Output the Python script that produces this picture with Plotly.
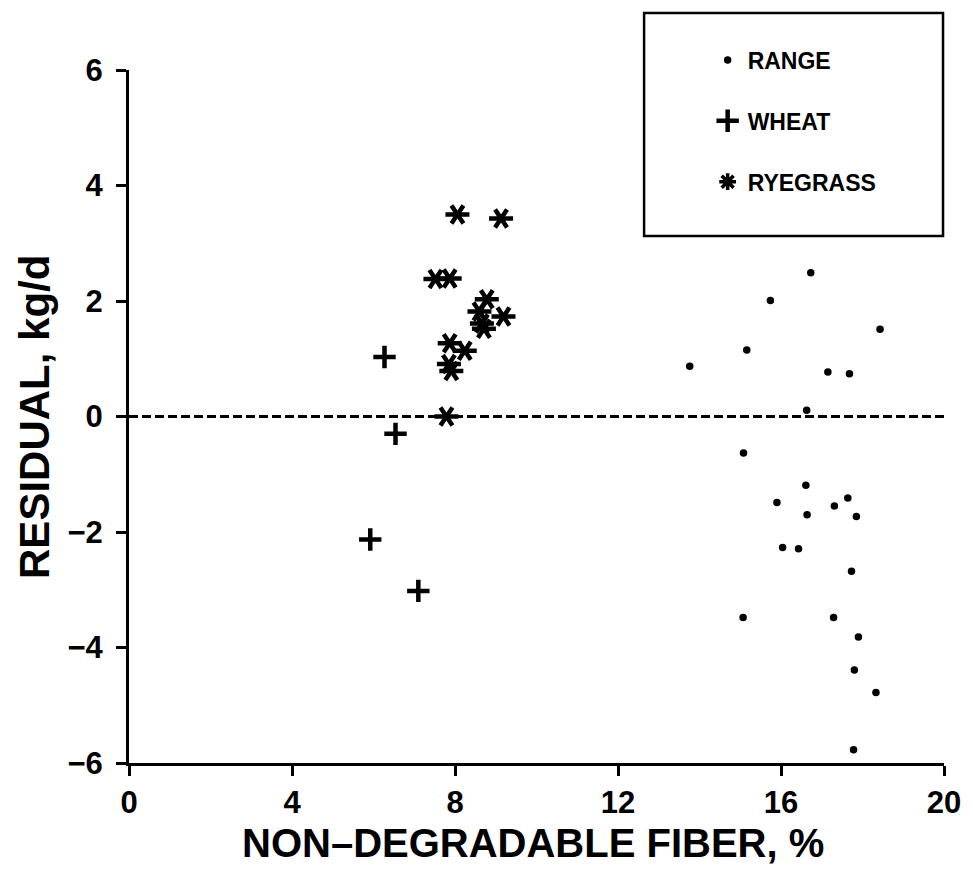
import plotly.graph_objects as go

# ---- data ----
range_x = [13.76, 15.16, 15.74, 16.73, 17.15, 17.68, 18.43, 16.63, 15.08, 16.61, 15.90, 17.64,
           17.31, 16.64, 17.85, 16.04, 16.43, 17.73, 15.07, 17.29, 17.90, 17.80, 18.33, 17.78]
range_y = [0.87, 1.15, 2.01, 2.49, 0.77, 0.74, 1.51, 0.11, -0.63, -1.19, -1.49, -1.41,
           -1.55, -1.70, -1.73, -2.27, -2.29, -2.68, -3.48, -3.48, -3.82, -4.39, -4.78, -5.77]

wheat_x = [6.27, 6.54, 5.92, 7.10]
wheat_y = [1.03, -0.30, -2.13, -3.02]

rye_x = [8.06, 9.13, 7.52, 7.87, 8.78, 8.60, 8.66, 8.71, 9.19, 7.87, 8.24, 7.85, 7.91, 7.79]
rye_y = [3.50, 3.43, 2.38, 2.39, 2.03, 1.82, 1.61, 1.52, 1.73, 1.27, 1.14, 0.91, 0.79, 0.00]

x_ticks = [0, 4, 8, 12, 16, 20]
y_ticks = [-6, -4, -2, 0, 2, 4, 6]
x_range = [0, 20]
y_range = [-6, 6]

FONT = "Liberation Sans, Arial, sans-serif"

fig = go.Figure()

fig.add_trace(go.Scatter(x=range_x, y=range_y, mode="markers", name="<b>RANGE</b>",
                         legendgroup="a",
                         marker=dict(symbol="circle", size=7.5, color="black")))
fig.add_trace(go.Scatter(x=wheat_x, y=wheat_y, mode="markers", name="<b>WHEAT</b>",
                         legendgroup="b",
                         marker=dict(symbol="cross-thin-open", size=16, color="black",
                                     line=dict(width=4.5, color="black"))))
# ryegrass: six-armed asterisk = y-left + y-right
for sym in ["y-left-open", "y-right-open"]:
    fig.add_trace(go.Scatter(x=rye_x, y=rye_y, mode="markers", showlegend=False,
                             legendgroup="c",
                             marker=dict(symbol=sym, size=15, color="black",
                                         line=dict(width=4.5, color="black"))))
# legend entry for ryegrass
fig.add_trace(go.Scatter(x=[None], y=[None], mode="markers", name="<b>RYEGRASS</b>",
                         legendgroup="c",
                         marker=dict(symbol="asterisk-open", size=14, color="black",
                                     line=dict(width=3.5, color="black"))))

# dashed zero line
fig.add_shape(type="line", xref="x", yref="y", x0=x_range[0], x1=x_range[1], y0=0, y1=0,
              line=dict(color="black", width=3, dash="9px,4px"))

# legend box
fig.add_shape(type="rect", xref="paper", yref="paper",
              x0=0.632, x1=0.9988, y0=0.7605, y1=1.0823,
              line=dict(color="black", width=2.5), fillcolor="rgba(0,0,0,0)")

axis_common = dict(showgrid=False, zeroline=False, linecolor="black", linewidth=3,
                   tickcolor="black", tickwidth=2.5, ticklen=10)

fig.update_layout(
    width=973, height=869,
    margin=dict(l=129, r=26, t=70, b=106),
    paper_bgcolor="white", plot_bgcolor="white",
    font=dict(family=FONT, color="black"),
    xaxis=dict(range=x_range, tickvals=x_ticks, ticks="outside", showline=True,
               tickfont=dict(size=31, family=FONT, weight="bold"), **axis_common),
    yaxis=dict(range=y_range, tickvals=y_ticks, ticks="outside", showline=True,
               ticklabelstandoff=7,
               tickfont=dict(size=31, family=FONT, weight="bold"), **axis_common),
    xaxis2=dict(range=x_range, overlaying="x", anchor="y", side="bottom", dtick=2, tick0=0,
                ticks="inside", showticklabels=False, showline=False, showgrid=False,
                zeroline=False, tickcolor="black", tickwidth=2.5, ticklen=9),
    yaxis2=dict(range=y_range, overlaying="y", anchor="x", side="left", dtick=1, tick0=0,
                ticks="inside", showticklabels=False, showline=False, showgrid=False,
                zeroline=False, tickcolor="black", tickwidth=2.5, ticklen=9),
    showlegend=True,
    legend=dict(x=0.71, y=1.0455, xanchor="left", yanchor="top",
                bgcolor="rgba(0,0,0,0)", borderwidth=0,
                font=dict(size=23, family=FONT, color="black"),
                tracegroupgap=28, itemsizing="trace"),
    annotations=[
        dict(text="<b>NON–DEGRADABLE FIBER, %</b>", xref="paper", yref="paper",
             x=0.4957, y=-0.1154, xanchor="center", yanchor="middle", showarrow=False,
             font=dict(size=40, family=FONT)),
        dict(text="<b>RESIDUAL, kg/d</b>", xref="paper", yref="paper",
             x=-0.116, y=0.5, xanchor="center", yanchor="middle", showarrow=False,
             textangle=-90, font=dict(size=42, family=FONT)),
    ],
)

fig.write_html("out.html")
